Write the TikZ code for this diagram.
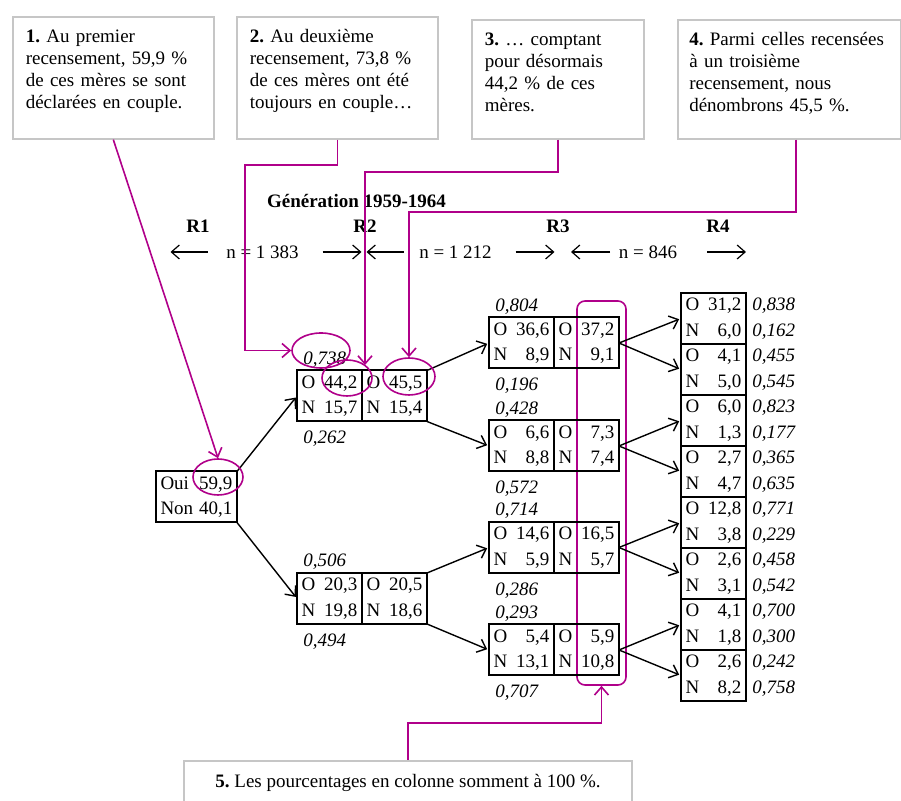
\documentclass[tikz,border=0pt]{standalone}
\usepackage{fontspec}
\setmainfont{Liberation Serif}
\usepackage{xcolor}
\usetikzlibrary{arrows.meta, positioning, shapes.geometric}

\definecolor{hlmag}{RGB}{176,0,138}
\newcommand{\oncell}[2]{\begin{tabular*}{28pt}{@{}l@{\extracolsep{\fill}}r@{}}O & #1\\N & #2\end{tabular*}}
\frenchspacing
\hyphenpenalty=10000

\begin{document}
\begin{tikzpicture}[
    x=0.5pt, y=-0.5pt,
    node distance = 0pt,
    % boîtes
    note/.style   = {rectangle, draw=gray!45, line width=.8pt, anchor=north west,
                     align=left, inner xsep=6.5pt, inner ysep=6.5pt,
                     text height=6.5pt, text depth=41.5pt,
                     font=\fontsize{9.5}{11}\selectfont},
    cell/.style   = {rectangle, draw, line width=1pt, inner xsep=2.25pt, inner ysep=0pt,
                     outer sep=0pt, minimum width=32.5pt, minimum height=25.5pt,
                     font=\fontsize{9.5}{12.75}\selectfont},
    prob/.style   = {inner sep=0pt, font=\fontsize{9.5}{11}\selectfont\itshape},
    hdr/.style    = {inner sep=1pt, font=\fontsize{9.5}{11}\selectfont\bfseries},
    nlbl/.style   = {inner sep=1pt, font=\fontsize{9.5}{11}\selectfont},
    ring/.style   = {ellipse, draw=hlmag, line width=.8pt, inner sep=0pt},
    arr/.style    = {-{Straight Barb[length=4pt,width=7pt]}, line width=.7pt, shorten >=1pt},
    spanarr/.style= {-{Straight Barb[length=4pt,width=7pt]}, line width=.6pt},
    hlarr/.style  = {-{Straight Barb[length=4pt,width=7pt]}, line width=.8pt, hlmag},
]
\useasboundingbox (0,0) rectangle (901,801);
\clip (0,0) rectangle (901,801);

% -- Encadrés de commentaires --------------------------------------------
\node[note, text width=87.5pt] (note1) at (12,16)
    {\textbf{1.} Au premier\\recensement, 59,9~\%\\de ces mères se sont\\déclarées en couple.};
\node[note, text width=87.5pt] (note2) at (236,16)
    {\textbf{2.} Au deuxième\\recensement, 73,8~\%\\de ces mères ont été\\toujours en couple\dots};
\node[note, text width=73pt, text depth=40pt] (note3) at (471,19)
    {\textbf{3.} \dots{} comptant\\pour désormais\\44,2~\% de ces\\mères.};
\node[note, text width=100pt, inner xsep=5.75pt, text depth=40pt] (note4) at (677,19)
    {\textbf{4.}~Parmi~celles~recensées\\à un troisième\\recensement, nous\\dénombrons 45,5~\%.};
\node[note, anchor=north, align=center, minimum width=224pt, inner ysep=7pt,
      text depth=20pt] (note5) at (408,760)
    {\textbf{5.} Les pourcentages en colonne somment à 100~\%.};

% -- En-tête --------------------------------------------------------------
\node[hdr] (gen) at (356.5,201) {Génération 1959-1964};
\node[hdr] (t1) at (198,226) {R1};
\node[hdr] (t2) at (365,226) {R2};
\node[hdr] (t3) at (558,226) {R3};
\node[hdr] (t4) at (718,226) {R4};

\node[nlbl] (n1) at (262.5,252) {n = 1~383};
\node[nlbl] (n2) at (455.5,252) {n = 1~212};
\node[nlbl] (n3) at (648,252) {n = 846};

\draw[spanarr] ([xshift=-27.5pt]n1.center) -- ([xshift=-46pt]n1.center);
\draw[spanarr] ([xshift=30pt]n1.center)    -- ([xshift=49.5pt]n1.center);
\draw[spanarr] ([xshift=-26pt]n2.center)   -- ([xshift=-44.5pt]n2.center);
\draw[spanarr] ([xshift=30pt]n2.center)    -- ([xshift=49.5pt]n2.center);
\draw[spanarr] ([xshift=-19pt]n3.center)   -- ([xshift=-38.5pt]n3.center);
\draw[spanarr] ([xshift=29.5pt]n3.center)  -- ([xshift=49pt]n3.center);

% -- Colonne somme --------------------------------------------------------
\node[draw=hlmag, line width=.8pt, rounded corners=4pt, inner sep=0pt,
      minimum width=24.5pt, minimum height=192pt] (colsum) at (601.5,493) {};

% -- R1 -------------------------------------------------------------------
\node[cell, minimum width=40.5pt, minimum height=25pt] (r1) at (196.5,497)
    {\begin{tabular*}{36pt}{@{}l@{\extracolsep{\fill}}r@{}}Oui & 59,9\\Non & 40,1\end{tabular*}};

% -- R2 -------------------------------------------------------------------
\node[cell] (r2a1) at (329.5,396) {\oncell{44,2}{15,7}};
\node[cell, right=of r2a1] (r2a2) {\oncell{45,5}{15,4}};
\node[cell] (r2b1) at (329.5,598.5) {\oncell{20,3}{19,8}};
\node[cell, right=of r2b1] (r2b2) {\oncell{20,5}{18,6}};

\node[prob, anchor=base west] (p738) at ([shift={(3pt,3pt)}]r2a1.north west) {0,738};
\node[prob, anchor=north west] (p262) at ([shift={(3pt,-4.5pt)}]r2a1.south west) {0,262};
\node[prob, anchor=base west] (p506) at ([shift={(3pt,3pt)}]r2b1.north west) {0,506};
\node[prob, anchor=north west] (p494) at ([shift={(3pt,-4.5pt)}]r2b1.south west) {0,494};

% -- R3 -------------------------------------------------------------------
\node[cell] (r3a1) at (521.5,343) {\oncell{36,6}{8,9}};
\node[cell, right=of r3a1] (r3a2) {\oncell{37,2}{9,1}};
\node[cell] (r3b1) at (521.5,446) {\oncell{6,6}{8,8}};
\node[cell, right=of r3b1] (r3b2) {\oncell{7,3}{7,4}};
\node[cell] (r3c1) at (521.5,547.5) {\oncell{14,6}{5,9}};
\node[cell, right=of r3c1] (r3c2) {\oncell{16,5}{5,7}};
\node[cell] (r3d1) at (521.5,650) {\oncell{5,4}{13,1}};
\node[cell, right=of r3d1] (r3d2) {\oncell{5,9}{10,8}};

\node[prob, anchor=base west] (p804) at ([shift={(3pt,3pt)}]r3a1.north west) {0,804};
\node[prob, anchor=north west] (p196) at ([shift={(3pt,-4.5pt)}]r3a1.south west) {0,196};
\node[prob, anchor=base west] (p428) at ([shift={(3pt,3pt)}]r3b1.north west) {0,428};
\node[prob, anchor=north west] (p572) at ([shift={(3pt,-4.5pt)}]r3b1.south west) {0,572};
\node[prob, anchor=base west] (p714) at ([shift={(3pt,3pt)}]r3c1.north west) {0,714};
\node[prob, anchor=north west] (p286) at ([shift={(3pt,-4.5pt)}]r3c1.south west) {0,286};
\node[prob, anchor=base west] (p293) at ([shift={(3pt,3pt)}]r3d1.north west) {0,293};
\node[prob, anchor=north west] (p707) at ([shift={(3pt,-4.5pt)}]r3d1.south west) {0,707};

% -- R4 -------------------------------------------------------------------
\node[cell] (r4a) at (713.5,318.5) {\oncell{31,2}{6,0}};
\node[cell, below=of r4a] (r4b) {\oncell{4,1}{5,0}};
\node[cell, below=of r4b] (r4c) {\oncell{6,0}{1,3}};
\node[cell, below=of r4c] (r4d) {\oncell{2,7}{4,7}};
\node[cell, below=of r4d] (r4e) {\oncell{12,8}{3,8}};
\node[cell, below=of r4e] (r4f) {\oncell{2,6}{3,1}};
\node[cell, below=of r4f] (r4g) {\oncell{4,1}{1,8}};
\node[cell, below=of r4g] (r4h) {\oncell{2,6}{8,2}};

\node[prob, anchor=base west] (q838) at ([shift={(3pt,3.8pt)}]r4a.east)  {0,838};
\node[prob, anchor=base west] (q162) at ([shift={(3pt,-8.9pt)}]r4a.east) {0,162};
\node[prob, anchor=base west] (q455) at ([shift={(3pt,3.8pt)}]r4b.east)  {0,455};
\node[prob, anchor=base west] (q545) at ([shift={(3pt,-8.9pt)}]r4b.east) {0,545};
\node[prob, anchor=base west] (q823) at ([shift={(3pt,3.8pt)}]r4c.east)  {0,823};
\node[prob, anchor=base west] (q177) at ([shift={(3pt,-8.9pt)}]r4c.east) {0,177};
\node[prob, anchor=base west] (q365) at ([shift={(3pt,3.8pt)}]r4d.east)  {0,365};
\node[prob, anchor=base west] (q635) at ([shift={(3pt,-8.9pt)}]r4d.east) {0,635};
\node[prob, anchor=base west] (q771) at ([shift={(3pt,3.8pt)}]r4e.east)  {0,771};
\node[prob, anchor=base west] (q229) at ([shift={(3pt,-8.9pt)}]r4e.east) {0,229};
\node[prob, anchor=base west] (q458) at ([shift={(3pt,3.8pt)}]r4f.east)  {0,458};
\node[prob, anchor=base west] (q542) at ([shift={(3pt,-8.9pt)}]r4f.east) {0,542};
\node[prob, anchor=base west] (q700) at ([shift={(3pt,3.8pt)}]r4g.east)  {0,700};
\node[prob, anchor=base west] (q300) at ([shift={(3pt,-8.9pt)}]r4g.east) {0,300};
\node[prob, anchor=base west] (q242) at ([shift={(3pt,3.8pt)}]r4h.east)  {0,242};
\node[prob, anchor=base west] (q758) at ([shift={(3pt,-8.9pt)}]r4h.east) {0,758};

% -- Flèches entre recensements -------------------------------------------
\draw[arr] (r1.north east)   -- (r2a1.west);
\draw[arr] (r1.south east)   -- (r2b1.west);
\draw[arr] (r2a2.north east) -- (r3a1.west);
\draw[arr] (r2a2.south east) -- (r3b1.west);
\draw[arr] (r2b2.north east) -- (r3c1.west);
\draw[arr] (r2b2.south east) -- (r3d1.west);
\draw[arr] (r3a2.east) -- (r4a.west);
\draw[arr] (r3a2.east) -- (r4b.west);
\draw[arr] (r3b2.east) -- (r4c.west);
\draw[arr] (r3b2.east) -- (r4d.west);
\draw[arr] (r3c2.east) -- (r4e.west);
\draw[arr] (r3c2.east) -- (r4f.west);
\draw[arr] (r3d2.east) -- (r4g.west);
\draw[arr] (r3d2.east) -- (r4h.west);

% -- Cercles et renvois ---------------------------------------------------
\node[ring, minimum width=25pt, minimum height=18pt]   (c599) at (218,477) {};
\node[ring, minimum width=29pt, minimum height=17.5pt] (c738) at (321,350.5) {};
\node[ring, minimum width=25pt, minimum height=18pt]   (c442) at (347,378) {};
\node[ring, minimum width=26pt, minimum height=18.5pt] (c455) at (409,376.5) {};

\coordinate (k2) at (245,165);
\coordinate (k3) at (365,172);
\coordinate (k4) at (796,212);
\coordinate (k5) at (408,723);

\draw[hlarr] (note1.south) -- (c599.north);
\draw[hlarr] (note2.south) |- (k2) |- (c738.west);
\draw[hlarr] (note3.south) |- (k3) -- (k3 |- c442.35);
\draw[hlarr] (note4.south -| k4) -- (k4) -| (c455.north);
\draw[hlarr] (note5.north) -- (k5) -| (colsum.south);

\end{tikzpicture}
\end{document}
